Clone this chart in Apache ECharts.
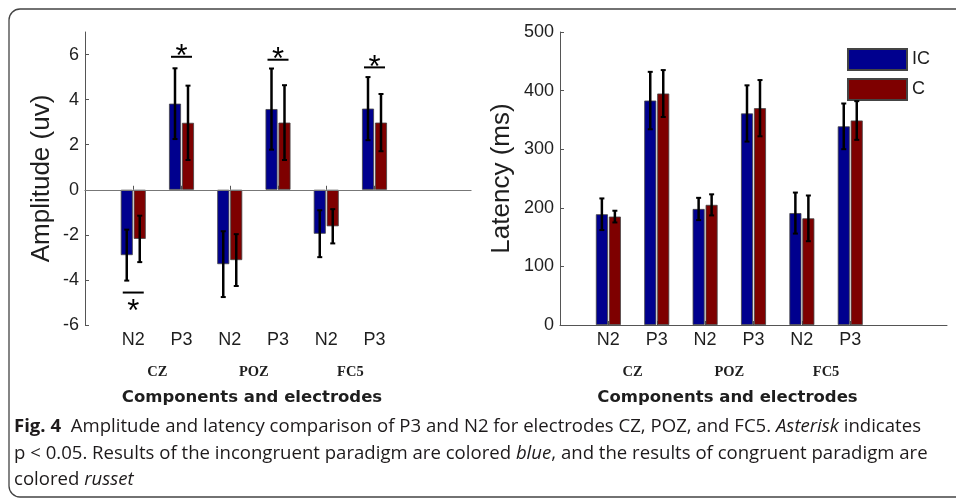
<!DOCTYPE html>
<html>
<head>
<meta charset="utf-8">
<script src="https://cdn.jsdelivr.net/npm/echarts@6/dist/echarts.min.js"></script>
<style>
  html, body { margin: 0; padding: 0; background: #fff; }
  #main { width: 956px; height: 502px; }
</style>
</head>
<body>
<div id="main"></div>
<script>
// categories
const components = ['N2', 'P3', 'N2', 'P3', 'N2', 'P3'];
const electrodes = ['CZ', 'POZ', 'FC5'];
const electrodePos = [1.5, 3.5, 5.5];
const ampTicks = [-6, -4, -2, 0, 2, 4, 6];
const latTicks = [0, 100, 200, 300, 400, 500];

// amplitude (uv): incongruent (IC) and congruent (C), with error half-widths
const ampIC = [-2.9, 3.82, -3.3, 3.58, -1.95, 3.6];
const ampICErr = [1.13, 1.57, 1.46, 1.8, 1.04, 1.4];
const ampC = [-2.18, 2.97, -3.12, 2.98, -1.62, 2.98];
const ampCErr = [1.03, 1.65, 1.15, 1.66, 0.76, 1.27];

// latency (ms)
const latIC = [189, 383, 198, 361, 191, 339];
const latICErr = [27, 49, 19, 48, 35, 39];
const latC = [185, 395, 205, 370, 182, 349];
const latCErr = [10, 40, 18, 48, 39, 33];

// significance markers (position on component axis, level in uv)
const sigPos = [1, 2, 4, 6];
const sigLevel = [-4.56, 5.9, 5.77, 5.43];

const blue = '#00008e';
const red = '#7e0000';
const textCol = '#1e1e1e';
const axisCol = '#555';

const catData = ['', ...components, '', ''];
const pairs = arr => arr.map((v, i) => [i + 1, v]);

function errSeries(vals, errs, gi, offset) {
  return {
    type: 'custom',
    xAxisIndex: gi * 2,
    yAxisIndex: gi,
    z: 10,
    silent: true,
    data: vals.map((v, i) => [i + 1, v - errs[i], v + errs[i]]),
    renderItem: (params, api) => {
      const lo = api.coord([api.value(0), api.value(1)]);
      const hi = api.coord([api.value(0), api.value(2)]);
      const x = lo[0] + offset;
      const st = { stroke: '#000', lineWidth: 2.5 };
      const cap = { stroke: '#000', lineWidth: 2 };
      return {
        type: 'group',
        children: [
          { type: 'line', shape: { x1: x, y1: lo[1], x2: x, y2: hi[1] }, style: st },
          { type: 'line', shape: { x1: x - 2.5, y1: lo[1], x2: x + 2.5, y2: lo[1] }, style: cap },
          { type: 'line', shape: { x1: x - 2.5, y1: hi[1], x2: x + 2.5, y2: hi[1] }, style: cap }
        ]
      };
    }
  };
}

function barSeries(name, vals, color, gi) {
  return {
    name: name,
    type: 'bar',
    xAxisIndex: gi * 2,
    yAxisIndex: gi,
    barWidth: 12,
    barGap: '8%',
    data: pairs(vals),
    itemStyle: { color: color, borderColor: '#444', borderWidth: 0.8 },
    emphasis: { disabled: true }
  };
}

function catAxis(gi) {
  return {
    type: 'category',
    gridIndex: gi,
    data: catData,
    boundaryGap: false,
    axisLine: { lineStyle: { color: axisCol, width: 1 } },
    axisTick: { inside: true, length: 4, interval: (idx, val) => val !== '', lineStyle: { color: axisCol } },
    axisLabel: { interval: 0, margin: 6, color: textCol, fontSize: 18, fontFamily: 'Liberation Sans' },
    splitLine: { show: false }
  };
}

function elecAxis(gi) {
  return {
    type: 'value',
    gridIndex: gi,
    min: 0,
    max: 8,
    position: 'bottom',
    axisLine: { show: false },
    axisTick: { show: false },
    splitLine: { show: false },
    axisLabel: {
      customValues: electrodePos,
      margin: 40,
      color: textCol,
      fontSize: 14.5,
      fontWeight: 'bold',
      fontFamily: 'Liberation Serif',
      formatter: v => electrodes[electrodePos.indexOf(v)]
    },
    name: 'Components and electrodes',
    nameLocation: 'middle',
    nameGap: 64,
    nameTextStyle: {
      color: textCol, fontSize: 16.5, fontWeight: 'bold', fontFamily: 'DejaVu Sans',
      padding: [0, 52, 0, 0]
    }
  };
}

function valAxis(gi, min, max, interval, ticks, name, gap) {
  return {
    type: 'value',
    gridIndex: gi,
    min: min,
    max: max,
    interval: interval,
    axisLine: { show: true, lineStyle: { color: axisCol, width: 1 } },
    axisTick: { show: true, inside: true, length: 4, customValues: ticks, lineStyle: { color: axisCol } },
    axisLabel: { customValues: ticks, margin: 6, color: textCol, fontSize: 18, fontFamily: 'Liberation Sans' },
    splitLine: { show: false },
    name: name,
    nameLocation: 'middle',
    nameGap: gap,
    nameTextStyle: { color: textCol, fontSize: 26, fontFamily: 'Liberation Sans' }
  };
}

const sigSeries = {
  type: 'custom',
  xAxisIndex: 0,
  yAxisIndex: 0,
  z: 11,
  silent: true,
  data: sigPos.map((p, i) => [p, sigLevel[i]]),
  renderItem: (params, api) => {
    const pt = api.coord([api.value(0), api.value(1)]);
    const below = api.value(1) < 0;
    return {
      type: 'group',
      children: [
        { type: 'line', shape: { x1: pt[0] - 10.5, y1: pt[1], x2: pt[0] + 10.5, y2: pt[1] }, style: { stroke: '#000', lineWidth: 2 } },
        { type: 'text', x: pt[0], y: below ? pt[1] + 20 : pt[1] + 1,
          style: { text: '*', fill: '#000', font: '31px Liberation Sans', align: 'center', verticalAlign: 'middle' } }
      ]
    };
  }
};

// caption, fitted to the width of the figure
const capFont = '"Open Sans"';
const capSize = 17.5;
const capLines = [
  [['b', 'Fig. 4'], ['n', '  Amplitude and latency comparison of P3 and N2 for electrodes CZ, POZ, and FC5. '], ['i', 'Asterisk'], ['n', ' indicates']],
  [['n', 'p < 0.05. Results of the incongruent paradigm are colored '], ['i', 'blue'], ['n', ', and the results of congruent paradigm are']],
  [['n', 'colored '], ['i', 'russet']]
];
const fontOf = k => (k === 'b' ? 'bold ' : k === 'i' ? 'italic ' : '') + capSize + 'px ' + capFont;
const ctx = document.createElement('canvas').getContext('2d');
const lineWidthPx = line => line.reduce((s, seg) => { ctx.font = fontOf(seg[0]); return s + ctx.measureText(seg[1]).width; }, 0);
const capScale = 907 / lineWidthPx(capLines[0]);
const capBase = [436, 463, 489];
const captionEls = capLines.map((line, li) => ({
  type: 'text',
  x: 14,
  y: capBase[li],
  scaleX: capScale,
  style: {
    text: line.map(seg => seg[0] === 'n' ? seg[1] : '{' + seg[0] + '|' + seg[1] + '}').join(''),
    fill: '#1d1a1b',
    fontFamily: capFont,
    fontSize: capSize,
    verticalAlign: 'bottom',
    rich: {
      b: { fontWeight: 'bold', fontFamily: capFont, fontSize: capSize, fill: '#1d1a1b' },
      i: { fontStyle: 'italic', fontFamily: capFont, fontSize: capSize, fill: '#1d1a1b' }
    }
  }
}));

const chart = echarts.init(document.getElementById('main'), null, { renderer: 'canvas' });
const option = {
  backgroundColor: '#fff',
  animation: false,
  grid: [
    { left: 85, top: 32, width: 386, height: 293 },
    { left: 560, top: 32, width: 387, height: 293 }
  ],
  legend: {
    data: ['IC', 'C'],
    orient: 'vertical',
    left: 847,
    top: 48,
    padding: 0,
    itemWidth: 59,
    itemHeight: 21,
    itemGap: 7,
    icon: 'rect',
    textStyle: { color: textCol, fontSize: 18, fontFamily: 'Liberation Sans' }
  },
  xAxis: [catAxis(0), elecAxis(0), catAxis(1), elecAxis(1)],
  yAxis: [
    valAxis(0, -6, 7, 2, ampTicks, 'Amplitude (uv)', 30),
    valAxis(1, 0, 500, 100, latTicks, 'Latency (ms)', 45)
  ],
  series: [
    Object.assign(barSeries('IC', ampIC, blue, 0), {
      markLine: {
        silent: true,
        symbol: ['none', 'none'],
        label: { show: false },
        lineStyle: { color: '#777', width: 1, type: 'solid' },
        data: [{ yAxis: 0 }]
      }
    }),
    barSeries('C', ampC, red, 0),
    barSeries('IC', latIC, blue, 1),
    barSeries('C', latC, red, 1),
    errSeries(ampIC, ampICErr, 0, -6.5),
    errSeries(ampC, ampCErr, 0, 6.5),
    errSeries(latIC, latICErr, 1, -6.5),
    errSeries(latC, latCErr, 1, 6.5),
    sigSeries
  ],
  graphic: [
    {
      type: 'rect',
      shape: { x: 9, y: 9, width: 970, height: 488, r: 11 },
      style: { fill: 'none', stroke: '#444', lineWidth: 1.3 },
      silent: true
    },
    ...captionEls
  ]
};
chart.setOption(option);
</script>
</body>
</html>
